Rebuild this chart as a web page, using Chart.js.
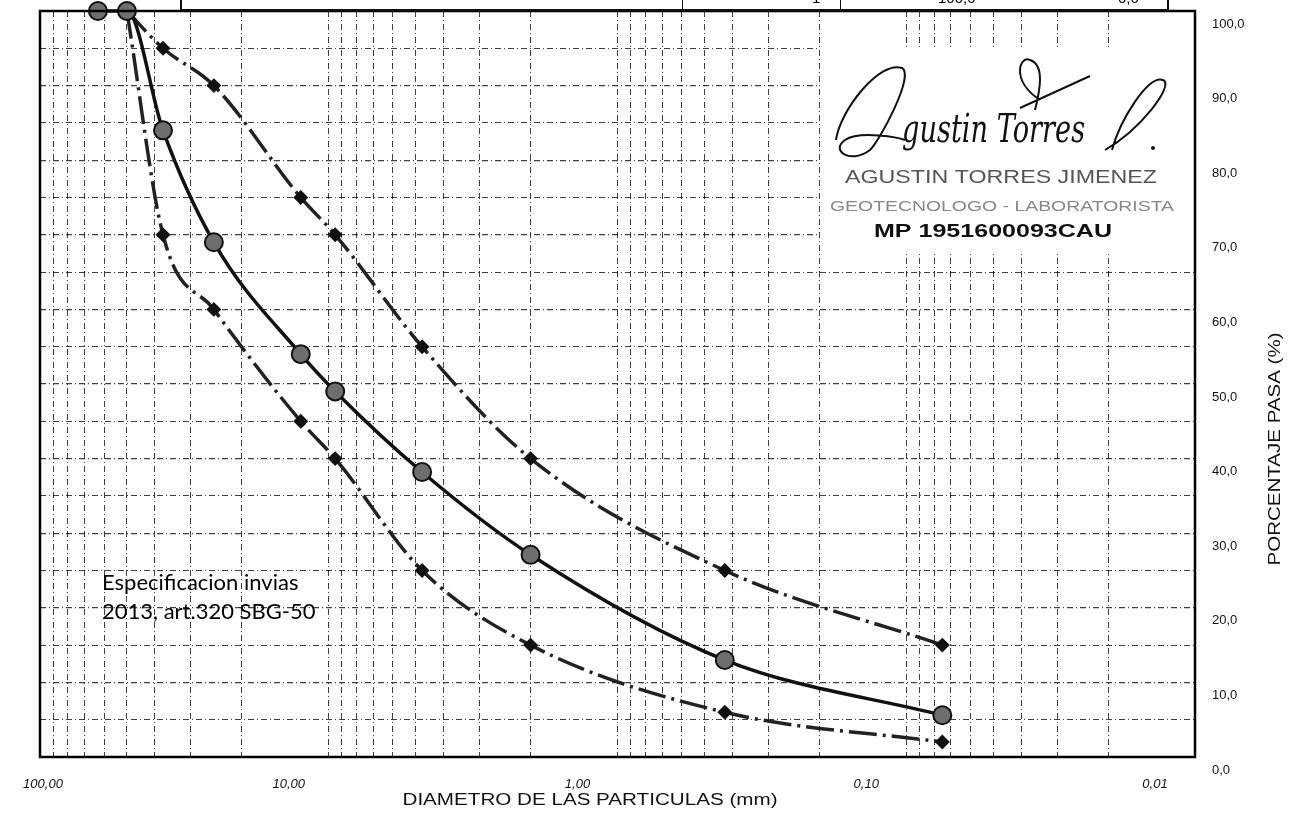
<!DOCTYPE html>
<html>
<head>
<meta charset="utf-8">
<script src="https://cdn.jsdelivr.net/npm/chart.js@4.4.0/dist/chart.umd.min.js"></script>
<style>
  html, body { margin: 0; padding: 0; background: #fff; }
  #wrap { position: relative; width: 1294px; height: 819px; overflow: hidden; }
  #granulometria { position: absolute; left: 0; top: 0; }
  .tabla { position: absolute; left: 180px; top: -16px; width: 985px; height: 22px;
           border: 2px solid #111; border-top-width: 3px; font: 15px "Liberation Sans", Arial, sans-serif; }
  .tabla div { position: absolute; top: 0; bottom: 0; border-left: 1.5px solid #111; }
  .tabla span { position: absolute; top: 2px; }
</style>
</head>
<body>
<div id="wrap">
  <canvas id="granulometria" width="1294" height="819"></canvas>
  <div class="tabla">
    <div style="left:500px"></div>
    <div style="left:658px"></div>
    <span style="left:630px">1</span>
    <span style="left:756px">100,0</span>
    <span style="left:936px">0,0</span>
  </div>
</div>
<script>
// tamices (mm) y porcentaje que pasa
const tamices = [63, 50, 37.5, 25, 12.5, 9.5, 4.75, 2.0, 0.425, 0.075]
const muestra = [100, 100, 84, 69, 54, 49, 38.2, 27.1, 13, 5.6]

// franja SBG-50 (INVIAS 2013, art. 320)
const tamicesEsp = [50, 37.5, 25, 12.5, 9.5, 4.75, 2.0, 0.425, 0.075]
const espMax = [100, 95, 90, 75, 70, 55, 40, 25, 15]
const espMin = [100, 70, 60, 45, 40, 25, 15, 6, 2]

// etiquetas de los ejes
const xMayores = [100, 10, 1, 0.1, 0.01]
const xEtiquetas = ['100,00', '10,00', '1,00', '0,10', '0,01']
const decadas = [10, 1, 0.1, 0.01]
const mantisas = [9, 8, 7, 6, 5, 4, 3, 2, 1]

const xGrid = [100]
decadas.forEach((d) => mantisas.forEach((m) => xGrid.push(+(m * d).toPrecision(3))))

const pares = (xs, ys) => xs.map((x, i) => ({ x: x, y: ys[i] }))

const granuloChart = document.getElementById('granulometria').getContext('2d')

const extras = {
  id: 'extras',
  beforeDatasetsDraw(chart) {
    const { ctx, chartArea } = chart
    // fondo blanco del sello
    ctx.save()
    ctx.fillStyle = '#fff'
    ctx.fillRect(820, 48, chartArea.right - 821, 206)
    ctx.restore()
  },
  afterDraw(chart) {
    const { ctx, chartArea, scales } = chart
    ctx.save()
    // marco
    ctx.strokeStyle = '#000'
    ctx.lineWidth = 2.5
    ctx.strokeRect(chartArea.left, chartArea.top, chartArea.right - chartArea.left, chartArea.bottom - chartArea.top)

    const ajustado = (txt, cx, cy, ancho, font, color) => {
      ctx.font = font
      ctx.fillStyle = color
      const w = ctx.measureText(txt).width
      ctx.save()
      ctx.translate(cx, cy)
      ctx.scale(ancho / w, 1)
      ctx.textAlign = 'center'
      ctx.textBaseline = 'middle'
      ctx.fillText(txt, 0, 0)
      ctx.restore()
    }

    // etiquetas eje x
    ctx.fillStyle = '#111'
    ctx.font = 'italic 13px "Liberation Sans", Arial, sans-serif'
    ctx.textAlign = 'center'
    ctx.textBaseline = 'middle'
    xMayores.forEach((v, i) => {
      let px = scales.x.getPixelForValue(v) - 40
      if (px < 43) px = 43
      ctx.fillText(xEtiquetas[i], px, 784)
    })

    // titulos de ejes
    ajustado('DIAMETRO DE LAS PARTICULAS (mm)', 590, 801, 375, '16px "Liberation Sans", Arial, sans-serif', '#111')
    ctx.save()
    ctx.translate(1276, 449)
    ctx.rotate(-Math.PI / 2)
    ajustado('PORCENTAJE PASA (%)', 0, 0, 233, '16px "Liberation Sans", Arial, sans-serif', '#111')
    ctx.restore()

    // nota de la especificacion
    ctx.textAlign = 'left'
    ctx.textBaseline = 'middle'
    ctx.fillStyle = '#000'
    ctx.font = '22px Lato, "Open Sans", sans-serif'
    ctx.fillText('Especificacion invias', 102, 583)
    ctx.fillText('2013, art.320 SBG-50', 102, 612)

    // sello del laboratorista
    ajustado('AGUSTIN TORRES JIMENEZ', 1001, 178, 312, '19px "Liberation Sans", Arial, sans-serif', '#555')
    ajustado('GEOTECNOLOGO - LABORATORISTA', 1002, 207, 344, '14px "Liberation Sans", Arial, sans-serif', '#888')
    ajustado('MP 1951600093CAU', 993, 232, 238, 'bold 19px "Liberation Sans", Arial, sans-serif', '#111')

    // firma
    ctx.strokeStyle = '#111'
    ctx.lineWidth = 2
    ctx.beginPath()
    ctx.moveTo(836, 140)
    ctx.bezierCurveTo(840, 110, 880, 60, 902, 68)
    ctx.bezierCurveTo(915, 75, 880, 140, 870, 150)
    ctx.bezierCurveTo(850, 165, 830, 150, 845, 140)
    ctx.bezierCurveTo(860, 130, 900, 138, 905, 140)
    ctx.stroke()
    ctx.beginPath()
    ctx.moveTo(1105, 150)
    ctx.bezierCurveTo(1140, 130, 1175, 85, 1163, 80)
    ctx.bezierCurveTo(1148, 75, 1120, 120, 1112, 150)
    ctx.stroke()
    ctx.beginPath()
    ctx.moveTo(1040, 100)
    ctx.bezierCurveTo(1010, 80, 1020, 55, 1030, 60)
    ctx.bezierCurveTo(1045, 65, 1040, 90, 1035, 110)
    ctx.moveTo(1020, 108)
    ctx.lineTo(1090, 76)
    ctx.stroke()
    ctx.font = 'italic 34px "DejaVu Serif", serif'
    ctx.fillStyle = '#111'
    ctx.textBaseline = 'alphabetic'
    ctx.save()
    ctx.translate(902, 142)
    ctx.scale(0.8, 1.15)
    ctx.fillText('gustin Torres', 0, 0)
    ctx.restore()
    ctx.beginPath()
    ctx.arc(1153, 148, 2, 0, Math.PI * 2)
    ctx.fill()
    ctx.restore()
  }
}

new Chart(granuloChart, {
  type: 'line',
  data: {
    datasets: [
      {
        label: 'Muestra',
        data: pares(tamices, muestra),
        borderColor: '#111',
        borderWidth: 3.5,
        pointStyle: 'circle',
        pointRadius: 9,
        pointBackgroundColor: '#6e6e6e',
        pointBorderColor: '#111',
        pointBorderWidth: 2,
        cubicInterpolationMode: 'monotone',
        order: 0
      },
      {
        label: 'Limite superior',
        data: pares(tamicesEsp, espMax),
        borderColor: '#222',
        borderWidth: 3.5,
        borderDash: [28, 6, 3, 6],
        pointStyle: 'rectRot',
        pointRadius: 5,
        pointBackgroundColor: '#111',
        pointBorderColor: '#111',
        cubicInterpolationMode: 'monotone',
        order: 1
      },
      {
        label: 'Limite inferior',
        data: pares(tamicesEsp, espMin),
        borderColor: '#222',
        borderWidth: 3.5,
        borderDash: [28, 6, 3, 6],
        pointStyle: 'rectRot',
        pointRadius: 5,
        pointBackgroundColor: '#111',
        pointBorderColor: '#111',
        cubicInterpolationMode: 'monotone',
        order: 1
      }
    ]
  },
  options: {
    responsive: false,
    animation: false,
    clip: false,
    layout: {
      padding: { left: 40, top: 11, right: 0, bottom: 0 }
    },
    plugins: {
      legend: { display: false },
      tooltip: { enabled: false }
    },
    scales: {
      x: {
        type: 'logarithmic',
        reverse: true,
        min: 0.01,
        max: 100,
        afterBuildTicks: (scale) => {
          scale.ticks = xGrid.map((v) => ({ value: v }))
        },
        afterFit: (scale) => {
          scale.height = 62
          scale.paddingLeft = 0
          scale.paddingRight = 0
        },
        ticks: { display: false },
        grid: {
          color: 'rgba(0,0,0,0.75)',
          lineWidth: 1,
          drawTicks: false
        },
        border: { display: false, dash: [6, 3, 1, 3] }
      },
      y: {
        position: 'right',
        min: 0,
        max: 100,
        afterFit: (scale) => {
          scale.width = 99
          scale.paddingTop = 0
          scale.paddingBottom = 0
        },
        ticks: {
          stepSize: 5,
          padding: 17,
          labelOffset: 13,
          color: '#111',
          font: { family: '"Liberation Sans", Arial, sans-serif', size: 13 },
          callback: (v) => (v % 10 === 0 ? v.toFixed(1).replace('.', ',') : '')
        },
        grid: {
          color: 'rgba(0,0,0,0.75)',
          lineWidth: (c) => (c.tick && c.tick.value % 10 === 0 ? 1.3 : 1),
          drawTicks: false
        },
        border: { display: false, dash: [6, 3, 1, 3] }
      }
    }
  },
  plugins: [extras]
})
</script>
</body>
</html>
